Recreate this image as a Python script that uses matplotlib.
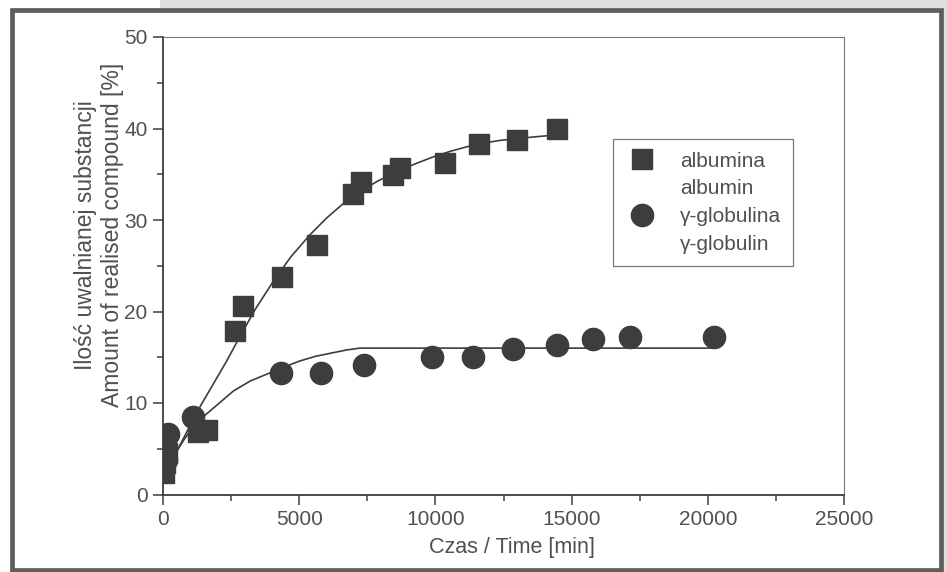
import matplotlib.pyplot as plt
from matplotlib.lines import Line2D
from matplotlib.patches import Rectangle
from matplotlib.ticker import MultipleLocator

plt.rcParams['font.family'] = ['Liberation Sans', 'DejaVu Sans']

# dane
alb_t = [30, 90, 150, 1300, 1600, 2640, 2920, 4360, 5670, 6990, 7270, 8430, 8700, 10350, 11610, 13010, 14450]
alb_y = [2.4, 3.4, 4.5, 6.8, 7.0, 17.9, 20.6, 23.8, 27.3, 32.8, 34.2, 34.9, 35.7, 36.2, 38.3, 38.7, 39.9]

glob_t = [100, 195, 1090, 4330, 5800, 7380, 9860, 11390, 12840, 14450, 15770, 17140, 20240]
glob_y = [3.8, 6.6, 8.5, 13.3, 13.3, 14.2, 15.0, 15.0, 15.9, 16.3, 17.0, 17.2, 17.2]

# krzywe dopasowania (punkty)
alb_fit_t = [0, 500, 1360, 2340, 2830, 3400, 4050, 4700, 5400, 6000, 6620, 7230, 7850,
             8580, 9310, 9925, 10540, 11150, 11760, 12370, 12980, 13700, 14450]
alb_fit_y = [2.6, 4.7, 9.6, 14.6, 17.3, 20.3, 23.3, 26.0, 28.4, 30.2, 31.8, 33.1, 34.2,
             35.3, 36.2, 36.9, 37.5, 38.0, 38.4, 38.7, 38.9, 39.1, 39.3]

glob_fit_t = [0, 500, 750, 1110, 1480, 1970, 2580, 3200, 3930, 4500, 5030, 5600, 6250, 6750, 7230, 7400, 20240]
glob_fit_y = [2.6, 4.7, 5.9, 7.4, 8.5, 9.75, 11.3, 12.4, 13.3, 14.0, 14.6, 15.1, 15.5, 15.8, 16.0, 16.0, 16.0]

txt = '#505050'
dark = '#3d3d3d'

fig = plt.figure(figsize=(9.47, 5.72), dpi=100)
fig.patch.set_facecolor('white')

# szare tło skanu i ramka
fig.patches.append(Rectangle((160 / 947, 1 - 8 / 572), 1, 8 / 572, transform=fig.transFigure,
                             facecolor='#dedede', edgecolor='none', zorder=0))
fig.patches.append(Rectangle((943 / 947, 0), 4 / 947, 1, transform=fig.transFigure,
                             facecolor='#dedede', edgecolor='none', zorder=0))
fig.patches.append(Rectangle((11.5 / 947, 2.5 / 572), (940.5 - 11.5) / 947, (562.5 - 2.5) / 572,
                             transform=fig.transFigure, facecolor='none',
                             edgecolor='#5e5e5e', lw=3.4, zorder=1))

ax = fig.add_axes([163 / 947, 1 - 494.5 / 572, 681 / 947, 457.5 / 572])

ax.plot(alb_fit_t, alb_fit_y, color=dark, lw=1.2, zorder=2)
ax.plot(glob_fit_t, glob_fit_y, color=dark, lw=1.2, zorder=2)
ax.plot(glob_t, glob_y, 'o', color=dark, ms=16, mec=dark, zorder=3)
ax.plot(alb_t, alb_y, 's', color=dark, ms=14, mec=dark, zorder=4)

ax.set_xlim(0, 25000)
ax.set_ylim(0, 50)
ax.xaxis.set_major_locator(MultipleLocator(5000))
ax.xaxis.set_minor_locator(MultipleLocator(2500))
ax.yaxis.set_major_locator(MultipleLocator(10))
ax.yaxis.set_minor_locator(MultipleLocator(5))
ax.tick_params(which='both', direction='out', colors=dark, labelcolor=txt, labelsize=15, width=1.1)
ax.tick_params(which='major', length=7, pad=4)
ax.tick_params(which='minor', length=4)

for s in ['left', 'bottom']:
    ax.spines[s].set_color(dark)
    ax.spines[s].set_linewidth(1.3)
for s in ['top', 'right']:
    ax.spines[s].set_color('#777777')
    ax.spines[s].set_linewidth(0.8)

ax.set_xlabel('Czas / Time [min]', fontsize=15.5, color=txt)
ax.xaxis.set_label_coords(0.512, -0.093)
ax.set_ylabel('Ilość uwalnianej substancji\nAmount of realised compound [%]',
              fontsize=16.5, color=txt, linespacing=1.25)
ax.yaxis.set_label_coords(-0.057, 0.567)

handles = [Line2D([], [], ls='none', marker='s', ms=14, color=dark),
           Line2D([], [], ls='none'),
           Line2D([], [], ls='none', marker='o', ms=16, color=dark),
           Line2D([], [], ls='none')]
labels = ['albumina', 'albumin', 'γ-globulina', 'γ-globulin']
leg = ax.legend(handles, labels, loc='upper left', bbox_to_anchor=(0.661, 0.777),
                borderaxespad=0, fontsize=15, frameon=True, fancybox=False,
                labelspacing=0.42, handletextpad=1.0, borderpad=0.6, handlelength=1.6)
leg.get_frame().set_edgecolor('#555555')
leg.get_frame().set_linewidth(0.9)
for t in leg.get_texts():
    t.set_color(txt)

fig.savefig('out.png', dpi=100)
